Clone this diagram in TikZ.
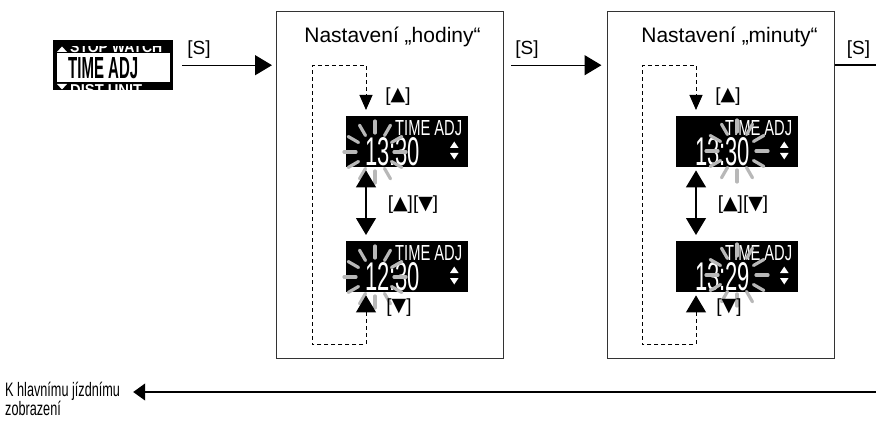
\documentclass[tikz,border=0pt]{standalone}
\usepackage{fontspec}
\setmainfont{Liberation Sans}
\newfontfamily\symf{DejaVu Sans}
\usetikzlibrary{arrows.meta,calc}
\newcommand{\up}{{\symf\raisebox{0.5pt}{▲}}}
\newcommand{\dn}{{\symf\raisebox{0.5pt}{▼}}}
\newcommand{\lcdpanel}[3]{%
  \node[anchor=north west, inner sep=0, text=white] (#1-lbl) at ($(#1.north west)+(49,4)$) {\resizebox{67pt}{15pt}{TIME ADJ}};
  \node[anchor=north west, inner sep=0, text=white] (#1-num) at ($(#1.north west)+(19,21)$) {\resizebox{55pt}{28pt}{#2}};
  \fill[white] ($(#1.north west)+(104,32)$) -- ++(8.5,0) -- ++(-4.25,-6.5) -- cycle;
  \fill[white] ($(#1.north west)+(104,37)$) -- ++(8.5,0) -- ++(-4.25,6.5) -- cycle;
  \foreach \a in {0,30,...,330}
    \draw[ray] ($(#1.north west)+(#3)+(\a:19)$) -- ($(#1.north west)+(#3)+(\a:31)$);
}
\begin{document}
\begin{tikzpicture}[x=1pt,y=-1pt,
  lbl/.style={font=\fontsize{19}{19}\selectfont, inner sep=0, text=black},
  ttl/.style={font=\fontsize{21}{21}\selectfont, inner sep=0, anchor=base},
  panel/.style={draw=black!80, line width=1.3pt, minimum width=227pt, minimum height=347pt, anchor=north west, inner sep=0},
  disp/.style={fill=black, minimum width=122pt, minimum height=51pt, anchor=north west, inner sep=0},
  conn/.style={line width=1.2pt, draw=black},
  loopline/.style={line width=1pt, draw=black, dash pattern=on 4pt off 3pt},
  ray/.style={draw=black!28, line width=3.2pt, line cap=round},
  bigtip/.tip={Triangle[length=17pt,width=20pt]},
  smalltip/.tip={Triangle[length=15pt,width=13pt]},
]
\useasboundingbox (0,0) rectangle (876,425);

% source display
\node[fill=black, minimum width=120pt, minimum height=50pt, anchor=north west, inner sep=0] (src) at (53,40) {};
\fill[white] (57,53) rectangle (170,82);
\node[anchor=north west, inner sep=0] (srcname) at (68,57) {\resizebox{70pt}{21pt}{\bfseries TIME ADJ}};
\begin{scope}
  \clip (56,47) rectangle (171,53);
  \node[anchor=south west, inner sep=0, text=white] (srcup) at (70,52.5) {\resizebox{92pt}{11pt}{\bfseries STOP WATCH}};
\end{scope}
\fill[white] (57,52) -- (67,52) -- (62,46.5) -- cycle;
\begin{scope}
  \clip (56,84) rectangle (171,89.5);
  \node[anchor=north west, inner sep=0, text=white] (srcdn) at (70,84) {\resizebox{72pt}{11pt}{\bfseries DIST UNIT}};
\end{scope}
\fill[white] (57,84) -- (67,84) -- (62,89.5) -- cycle;

% panels
\node[panel] (p1) at (276,11) {};
\node[panel] (p2) at (606.5,11) {};
\node[ttl] (t1) at (392.5,43) {Nastavení „hodiny“};
\node[ttl] (t2) at (729.5,43) {Nastavení „minuty“};

% displays
\node[disp] (h1) at (346,116) {};
\node[disp] (h2) at (346,241) {};
\node[disp] (m1) at (676,116) {};
\node[disp] (m2) at (676,241) {};
\lcdpanel{h1}{13:30}{29,36}
\lcdpanel{h2}{12:30}{29,36}
\lcdpanel{m1}{13:30}{61,35}
\lcdpanel{m2}{13:29}{61,34}

% inner arrows
\foreach \d/\e/\p in {h1/h2/p1, m1/m2/p2}{
  \draw[loopline, {bigtip}-{smalltip}] ($(\e.south west)+(20,3)$) -- ++(0,49) -- ++(-54,0) -- ++(0,-279) -- ++(54,0) -- ($(\d.north west)+(20,-6)$);
  \draw[conn, {bigtip}-{bigtip}] ($(\d.south west)+(20,3)$) -- ($(\e.north west)+(20,-6)$);
}
\node[lbl] (u1) at (398,96.5) {[\up]};
\node[lbl] (ud1) at (413,205) {[\up][\dn]};
\node[lbl] (d1) at (399,307.5) {[\dn]};
\node[lbl] (u2) at (728,96.5) {[\up]};
\node[lbl] (ud2) at (743,205) {[\up][\dn]};
\node[lbl] (d2) at (729,307.5) {[\dn]};

% S arrows
\node[lbl] (s1) at (199,49.5) {[S]};
\node[lbl] (s2) at (527,49.5) {[S]};
\node[lbl] (s3) at (858.5,49.5) {[S]};
\draw[conn, -{bigtip}, shorten >=4pt] ($(src.east)+(9,0)$) -- (p1.west |- src.east);
\draw[conn, -{bigtip}, shorten <=7pt, shorten >=5pt] (p1.east |- src.east) -- (p2.west |- src.east);
\coordinate (exitR) at (876,65);
\draw[conn] (p2.east |- exitR) -- (exitR);

% return
\node[anchor=north west, inner sep=0, align=left, font=\fontsize{19.5}{18}\selectfont] (home) at (5,382) {\scalebox{0.65}[1]{K hlavnímu jízdnímu}\\\scalebox{0.65}[1]{zobrazení}};
\coordinate (retR) at (876,392);
\draw[conn, -{Triangle[length=12pt,width=17pt]}] (retR) -- ($(retR -| home.east)+(13,0)$);
\end{tikzpicture}
\end{document}
